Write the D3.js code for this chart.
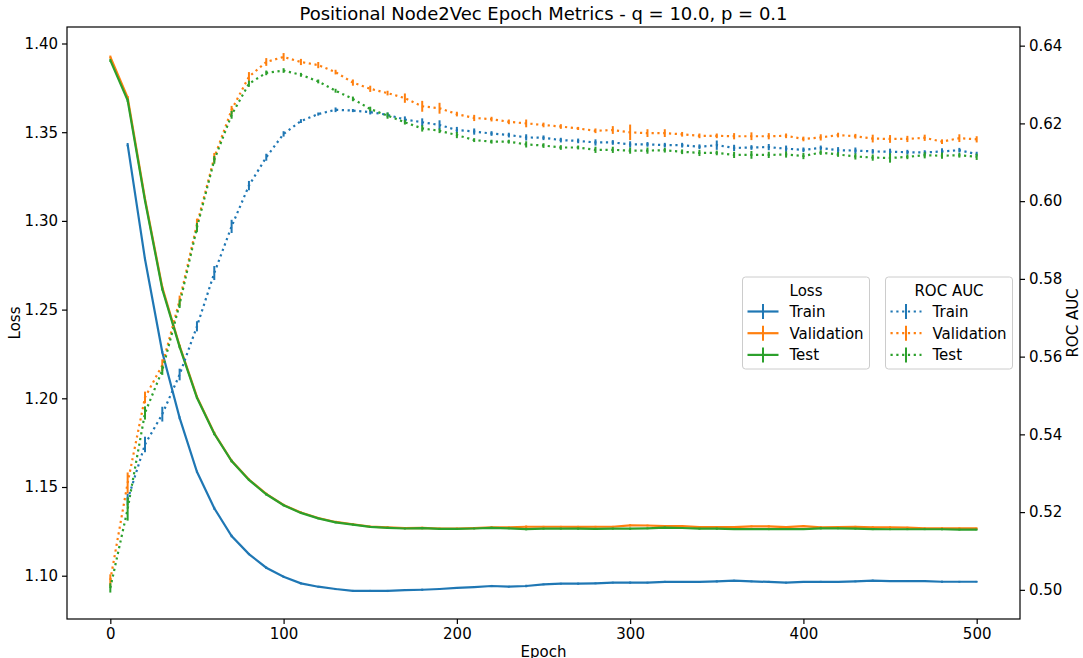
<!DOCTYPE html>
<html>
<head>
<meta charset="utf-8">
<script src="https://cdn.jsdelivr.net/npm/d3@7"></script>
<style>
  body { margin: 0; background: #fff; }
  svg { font-family: "DejaVu Sans", sans-serif; }
</style>
</head>
<body>
<svg id="chart" width="1083" height="658"></svg>
<script>
const epochs = d3.range(0, 501, 10)

const trainLoss = [null, 1.343, 1.2785, 1.226, 1.189, 1.1586, 1.138, 1.1224, 1.1122, 1.1045, 1.0994,
  1.0957, 1.0938, 1.0925, 1.0915, 1.0915, 1.0914, 1.0919, 1.0921, 1.0925, 1.0931,
  1.0936, 1.0942, 1.0938, 1.0942, 1.0951, 1.0955, 1.0955, 1.0957, 1.0961, 1.0961,
  1.0961, 1.0965, 1.0965, 1.0965, 1.0968, 1.0972, 1.0968, 1.0965, 1.0961, 1.0965,
  1.0965, 1.0965, 1.0968, 1.0972, 1.097, 1.097, 1.097, 1.0966, 1.0966, 1.0966]
const valLoss = [1.3924, 1.3695, 1.3125, 1.2625, 1.2295, 1.2008, 1.1803, 1.1648, 1.1542, 1.1461, 1.1399,
  1.1356, 1.1325, 1.1303, 1.129, 1.1277, 1.1272, 1.1268, 1.127, 1.1266, 1.1266,
  1.1268, 1.1272, 1.1272, 1.1276, 1.1276, 1.1276, 1.1275, 1.1276, 1.1276, 1.1284,
  1.1283, 1.128, 1.128, 1.1274, 1.1274, 1.1274, 1.1278, 1.1278, 1.1274, 1.128,
  1.1273, 1.1274, 1.1276, 1.1273, 1.1273, 1.1271, 1.1267, 1.1267, 1.1267, 1.1267]
const testLoss = [1.3905, 1.368, 1.3115, 1.2615, 1.229, 1.2003, 1.18, 1.1646, 1.154, 1.1459, 1.1397,
  1.1354, 1.1323, 1.1301, 1.1288, 1.1275, 1.127, 1.1266, 1.1268, 1.1264, 1.1264,
  1.1266, 1.127, 1.1267, 1.1263, 1.1265, 1.1265, 1.1265, 1.1264, 1.1265, 1.1265,
  1.1267, 1.1271, 1.1269, 1.1265, 1.1265, 1.1263, 1.1263, 1.1263, 1.1263, 1.1263,
  1.1267, 1.1267, 1.1265, 1.1263, 1.1262, 1.1262, 1.1262, 1.1262, 1.126, 1.126]
const lossErr = [0.0008, 0.0009, 0.0008, 0.0007, 0.0008, 0.0007, 0.0008, 0.0007, 0.0006, 0.0007, 0.0006,
  0.0006, 0.0005, 0.0006, 0.0005, 0.0005, 0.0006, 0.0005, 0.0006, 0.0005, 0.0005,
  0.0005, 0.0006, 0.0005, 0.0007, 0.0005, 0.0005, 0.0006, 0.0005, 0.0005, 0.0006,
  0.0005, 0.0006, 0.0005, 0.0005, 0.0006, 0.0005, 0.0005, 0.0006, 0.0005, 0.0005,
  0.0006, 0.0005, 0.0005, 0.0006, 0.0005, 0.0005, 0.0005, 0.0006, 0.0005, 0.0005]

const trainRoc = [null, 0.5232, 0.5374, 0.5452, 0.5554, 0.5678, 0.5815, 0.5935, 0.604, 0.6113, 0.6173,
  0.6206, 0.6224, 0.6235, 0.6233, 0.6229, 0.6222, 0.621, 0.6203, 0.6196, 0.6183,
  0.6179, 0.6174, 0.617, 0.6164, 0.6163, 0.6157, 0.6155, 0.6151, 0.6151, 0.6146,
  0.6146, 0.6144, 0.6144, 0.614, 0.6144, 0.6137, 0.6138, 0.6139, 0.6135, 0.6132,
  0.6137, 0.6131, 0.613, 0.6128, 0.6127, 0.6126, 0.6125, 0.6128, 0.6131, 0.6121]
const valRoc = [0.5025, 0.5275, 0.5495, 0.5578, 0.5745, 0.594, 0.6112, 0.6235, 0.632, 0.6358, 0.6371,
  0.6358, 0.635, 0.6332, 0.6305, 0.6289, 0.6278, 0.6265, 0.6244, 0.6239, 0.6224,
  0.6214, 0.6211, 0.6204, 0.62, 0.6196, 0.6192, 0.6187, 0.6181, 0.6183, 0.6177,
  0.6175, 0.6175, 0.6172, 0.6168, 0.6168, 0.6167, 0.6167, 0.6167, 0.6168, 0.616,
  0.6164, 0.617, 0.6167, 0.6161, 0.616, 0.616, 0.6163, 0.6153, 0.6162, 0.6159]
const testRoc = [0.5005, 0.5208, 0.5455, 0.5565, 0.5735, 0.5932, 0.6106, 0.6222, 0.6302, 0.633, 0.6336,
  0.6325, 0.6308, 0.6284, 0.6263, 0.6237, 0.622, 0.6203, 0.6187, 0.6181, 0.617,
  0.6157, 0.6153, 0.6153, 0.6146, 0.6143, 0.6138, 0.6138, 0.6132, 0.6132, 0.613,
  0.613, 0.6131, 0.6127, 0.6124, 0.6124, 0.6119, 0.6119, 0.6119, 0.612, 0.6116,
  0.6125, 0.612, 0.6115, 0.6112, 0.6111, 0.6114, 0.6118, 0.6117, 0.6118, 0.6114]

const trainRocErr = [null, 0.0015, 0.002, 0.0019, 0.0015, 0.0013, 0.0018, 0.0017, 0.0012, 0.0009, 0.0007,
  0.0005, 0.0004, 0.0006, 0.0004, 0.0006, 0.0006, 0.0008, 0.001, 0.0012, 0.0008,
  0.0008, 0.0006, 0.0006, 0.0008, 0.0006, 0.0006, 0.0006, 0.0008, 0.0006, 0.0008,
  0.0006, 0.0006, 0.0006, 0.0006, 0.0012, 0.0008, 0.0006, 0.0008, 0.0008, 0.0006,
  0.0006, 0.0008, 0.0008, 0.0006, 0.0008, 0.0006, 0.0006, 0.0008, 0.0006, 0.0006]
const valRocErr = [0.0015, 0.0027, 0.0015, 0.0015, 0.0012, 0.0015, 0.0012, 0.001, 0.0012, 0.001, 0.001,
  0.0008, 0.0008, 0.0006, 0.0008, 0.0008, 0.0006, 0.0012, 0.0014, 0.0014, 0.0006,
  0.0008, 0.0006, 0.0006, 0.001, 0.0006, 0.0006, 0.0004, 0.0006, 0.001, 0.002,
  0.001, 0.001, 0.0006, 0.0006, 0.0006, 0.0008, 0.001, 0.0008, 0.0006, 0.0006,
  0.0008, 0.0006, 0.0006, 0.001, 0.001, 0.0008, 0.0008, 0.0006, 0.001, 0.0008]
const testRocErr = [0.0012, 0.003, 0.0017, 0.0012, 0.001, 0.0012, 0.001, 0.001, 0.0008, 0.0006, 0.0006,
  0.0005, 0.0005, 0.0005, 0.0006, 0.0006, 0.0008, 0.0006, 0.0008, 0.0006, 0.0008,
  0.0005, 0.0005, 0.0005, 0.0008, 0.0006, 0.0006, 0.0005, 0.0008, 0.0008, 0.0008,
  0.0008, 0.0006, 0.0006, 0.0008, 0.0006, 0.0008, 0.001, 0.0008, 0.0008, 0.0008,
  0.0006, 0.0006, 0.0008, 0.0008, 0.0012, 0.0006, 0.0008, 0.0008, 0.0006, 0.0008]

const lossTicks = [1.10, 1.15, 1.20, 1.25, 1.30, 1.35, 1.40]
const rocTicks = [0.50, 0.52, 0.54, 0.56, 0.58, 0.60, 0.62, 0.64]
const epochTicks = [0, 100, 200, 300, 400, 500]
const seriesNames = ['Train', 'Validation', 'Test']
const colors = ['#1f77b4', '#ff7f0e', '#2ca02c']

const svg = d3.select('#chart')
const margin = { left: 67, right: 63, top: 27, bottom: 39 }
const width = 1083 - margin.left - margin.right
const height = 658 - margin.top - margin.bottom
const fontSize = 15
const lineW = 2.2
const dots = '2.2,3.6'

const x = d3.scaleLinear().domain([-25, 525]).range([0, width])
const yLoss = d3.scaleLinear().domain([1.0756, 1.4093]).range([height, 0])
const yRoc = d3.scaleLinear().domain([0.4925, 0.6448]).range([height, 0])

const g = svg.append('g').attr('transform', `translate(${margin.left},${margin.top})`)

function drawSeries (values, errs, yScale, color, dashed) {
  var pts = epochs.map((e, i) => ({ e: e, v: values[i], err: errs[i] }))
    .filter(d => d.v !== null)

  var line = d3.line().x(d => x(d.e)).y(d => yScale(d.v))
  var path = g.append('path')
    .datum(pts)
    .attr('d', line)
    .attr('fill', 'none')
    .attr('stroke', color)
    .attr('stroke-width', lineW)
  if (dashed) path.attr('stroke-dasharray', dots)

  g.append('g').selectAll('line')
    .data(pts)
    .join('line')
    .attr('x1', d => x(d.e))
    .attr('x2', d => x(d.e))
    .attr('y1', d => yScale(d.v - d.err))
    .attr('y2', d => yScale(d.v + d.err))
    .attr('stroke', color)
    .attr('stroke-width', 2)
}

drawSeries(trainLoss, lossErr, yLoss, colors[0], false)
drawSeries(valLoss, lossErr, yLoss, colors[1], false)
drawSeries(testLoss, lossErr, yLoss, colors[2], false)
drawSeries(trainRoc, trainRocErr, yRoc, colors[0], true)
drawSeries(valRoc, valRocErr, yRoc, colors[1], true)
drawSeries(testRoc, testRocErr, yRoc, colors[2], true)

// axes
var xAxis = g.append('g')
  .attr('transform', `translate(0,${height})`)
  .call(d3.axisBottom(x).tickValues(epochTicks).tickSize(5).tickPadding(4))
var yAxisL = g.append('g')
  .call(d3.axisLeft(yLoss).tickValues(lossTicks).tickFormat(d3.format('.2f')).tickSize(5).tickPadding(4))
var yAxisR = g.append('g')
  .attr('transform', `translate(${width},0)`)
  .call(d3.axisRight(yRoc).tickValues(rocTicks).tickFormat(d3.format('.2f')).tickSize(5).tickPadding(4))

;[xAxis, yAxisL, yAxisR].forEach(a => {
  a.select('.domain').remove()
  a.selectAll('.tick line').attr('stroke', '#000').attr('stroke-width', 1.2)
  a.selectAll('.tick text').attr('font-size', fontSize).attr('fill', '#000')
    .attr('font-family', '"DejaVu Sans", sans-serif')
})

g.append('rect')
  .attr('width', width)
  .attr('height', height)
  .attr('fill', 'none')
  .attr('stroke', '#000')
  .attr('stroke-width', 1.2)

// labels
svg.append('text')
  .attr('x', margin.left + width / 2)
  .attr('y', 20)
  .attr('text-anchor', 'middle')
  .attr('font-size', 18)
  .text('Positional Node2Vec Epoch Metrics - q = 10.0, p = 0.1')

svg.append('text')
  .attr('x', margin.left + width / 2)
  .attr('y', 657)
  .attr('text-anchor', 'middle')
  .attr('font-size', fontSize)
  .text('Epoch')

svg.append('text')
  .attr('transform', `translate(20,${margin.top + height / 2}) rotate(-90)`)
  .attr('text-anchor', 'middle')
  .attr('font-size', fontSize)
  .text('Loss')

svg.append('text')
  .attr('transform', `translate(1078,${margin.top + height / 2}) rotate(-90)`)
  .attr('text-anchor', 'middle')
  .attr('font-size', fontSize)
  .text('ROC AUC')

// legends
function drawLegend (x0, w, title, dashed) {
  var lg = svg.append('g').attr('transform', `translate(${x0},277)`)
  lg.append('rect')
    .attr('width', w)
    .attr('height', 92)
    .attr('rx', 3)
    .attr('fill', 'rgba(255,255,255,0.8)')
    .attr('stroke', '#cccccc')
    .attr('stroke-width', 1)
  lg.append('text')
    .attr('x', w / 2)
    .attr('y', 18.5)
    .attr('text-anchor', 'middle')
    .attr('font-size', fontSize)
    .text(title)
  seriesNames.forEach((name, i) => {
    var cy = 34.5 + i * 21.7
    var l = lg.append('line')
      .attr('x1', 5).attr('x2', 36)
      .attr('y1', cy).attr('y2', cy)
      .attr('stroke', colors[i])
      .attr('stroke-width', lineW)
    if (dashed) l.attr('stroke-dasharray', dots)
    lg.append('line')
      .attr('x1', 20.5).attr('x2', 20.5)
      .attr('y1', cy - 7.5).attr('y2', cy + 7.5)
      .attr('stroke', colors[i])
      .attr('stroke-width', 2)
    lg.append('text')
      .attr('x', 47)
      .attr('y', cy + 5.3)
      .attr('font-size', fontSize)
      .text(name)
  })
}

drawLegend(742.5, 127, 'Loss', false)
drawLegend(885.5, 127, 'ROC AUC', true)
</script>
</body>
</html>
